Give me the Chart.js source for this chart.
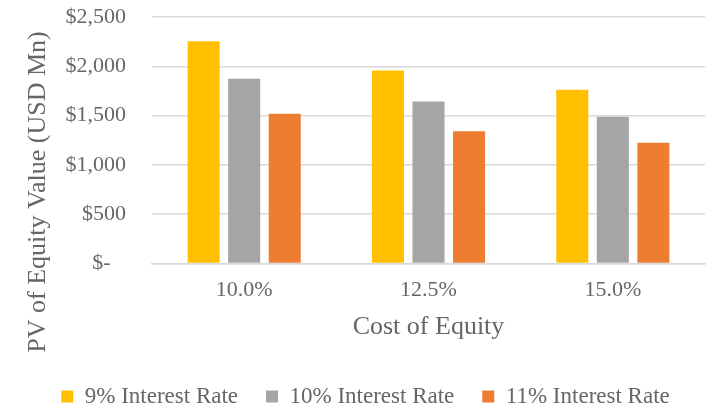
<!DOCTYPE html>
<html>
<head>
<meta charset="utf-8">
<script src="https://cdn.jsdelivr.net/npm/chart.js@4"></script>
<style>
  html, body { margin: 0; padding: 0; background: #fff; }
  canvas { display: block; }
</style>
</head>
<body>
<canvas id="pvChart" width="715" height="408"></canvas>
<script>
const costOfEquity = ['10.0%', '12.5%', '15.0%'];
const seriesNames = ['9% Interest Rate', '10% Interest Rate', '11% Interest Rate'];
const rate9 = [2253, 1958, 1762];
const rate10 = [1874, 1643, 1488];
const rate11 = [1518, 1341, 1224];
const yTicks = [0, 500, 1000, 1500, 2000, 2500];

const colors = ['#FFC000', '#A5A5A5', '#ED7D31'];
const textColor = '#666666';
const serif = '"Liberation Serif", "Times New Roman", serif';

// y axis title drawn by hand so it can sit lower than the plot centre, like the original
const yTitle = {
  id: 'yTitle',
  afterDraw(chart) {
    const ctx = chart.ctx;
    ctx.save();
    ctx.translate(38, 192);
    ctx.rotate(-Math.PI / 2);
    ctx.font = '26px ' + serif;
    ctx.fillStyle = textColor;
    ctx.textAlign = 'center';
    ctx.textBaseline = 'middle';
    ctx.fillText('PV of Equity Value (USD Mn)', 0, 0);
    ctx.restore();
  }
};

const ctx = document.getElementById('pvChart').getContext('2d');
new Chart(ctx, {
  type: 'bar',
  data: {
    labels: costOfEquity,
    datasets: [rate9, rate10, rate11].map((vals, i) => ({
      label: seriesNames[i],
      data: vals,
      backgroundColor: colors[i],
      borderWidth: 0,
      barPercentage: 0.79,
      categoryPercentage: 0.66
    }))
  },
  options: {
    responsive: false,
    animation: false,
    layout: { padding: { left: 26, right: 10, top: 17, bottom: -10 } },
    plugins: {
      legend: {
        position: 'bottom',
        labels: {
          boxWidth: 12,
          boxHeight: 12,
          padding: 28,
          color: textColor,
          font: { family: serif, size: 23 }
        }
      },
      tooltip: { enabled: false }
    },
    scales: {
      x: {
        grid: { display: false, drawTicks: false },
        border: { display: true, color: '#d9d9d9', width: 1.5 },
        ticks: { padding: 14, color: textColor, font: { family: serif, size: 22 } },
        title: {
          display: true,
          text: 'Cost of Equity',
          color: textColor,
          font: { family: serif, size: 26 },
          padding: { top: -6, bottom: 14 }
        }
      },
      y: {
        min: yTicks[0],
        max: yTicks[yTicks.length - 1],
        afterFit(scale) {
          scale.width = 126;
          scale.paddingTop = 0;
          scale.paddingBottom = 0;
        },
        afterBuildTicks(scale) { scale.ticks = yTicks.map(v => ({ value: v })); },
        grid: { color: '#d9d9d9', lineWidth: 1.5, drawTicks: false },
        border: { display: false },
        ticks: {
          padding: 26,
          color: textColor,
          font: { family: serif, size: 22 },
          callback: v => v === 0 ? '$-  \u2009' : '$' + v.toLocaleString('en-US')
        }
      }
    }
  },
  plugins: [yTitle]
});
</script>
</body>
</html>
